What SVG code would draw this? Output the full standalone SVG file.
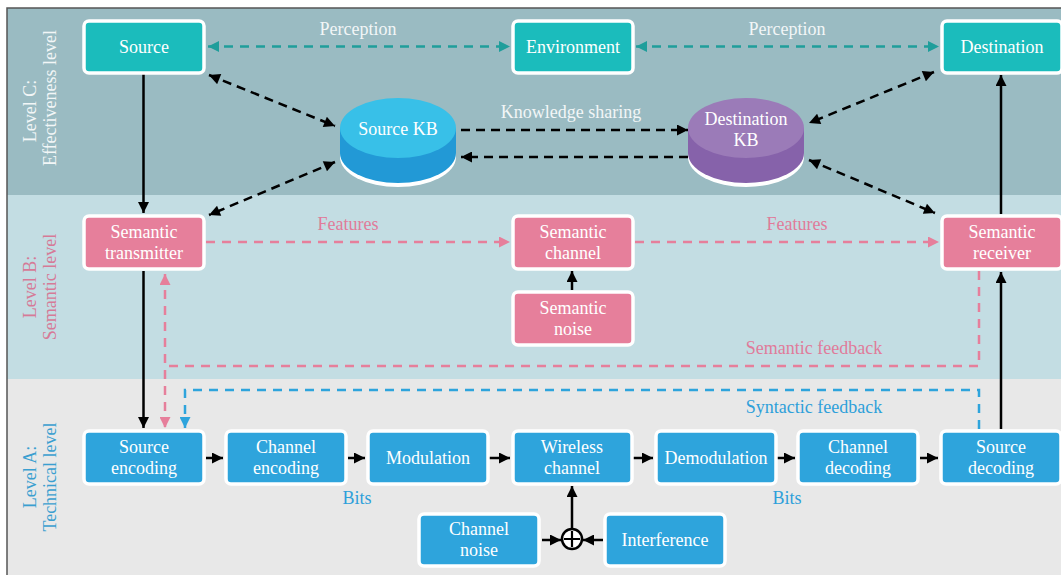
<svg xmlns="http://www.w3.org/2000/svg" width="1061" height="575" viewBox="0 0 1061 575">
<style>
text{font-family:"Liberation Serif","Times New Roman",serif;font-size:18px;text-anchor:middle}
.nt{fill:#fff}
.box{stroke:#fff;stroke-width:3.5}
.teal{fill:#1bbcbc}
.pink{fill:#e67f9b}
.blue{fill:#2ea4dc}
.lbl{fill:#f2f6f7}
.lp{fill:#e07b9a}
.lb{fill:#2ea0da}
.solid{stroke:#000;stroke-width:2.5;fill:none}
.dk{stroke:#000;stroke-width:2.5;fill:none;stroke-dasharray:9 6}
.dt{stroke:#1f9e9b;stroke-width:2.5;fill:none;stroke-dasharray:9 7}
.dp{stroke:#e67f9b;stroke-width:2.5;fill:none;stroke-dasharray:9 7}
.db{stroke:#2ea4dc;stroke-width:2.5;fill:none;stroke-dasharray:9 7}
</style>
<defs>
<marker id="ak" viewBox="0 0 10 10" refX="10" refY="5" markerWidth="13" markerHeight="11" markerUnits="userSpaceOnUse" orient="auto-start-reverse"><path d="M0,0 L10,5 L0,10 z" fill="#000"/></marker>
<marker id="at" viewBox="0 0 10 10" refX="10" refY="5" markerWidth="13" markerHeight="11" markerUnits="userSpaceOnUse" orient="auto-start-reverse"><path d="M0,0 L10,5 L0,10 z" fill="#1f9e9b"/></marker>
<marker id="ap" viewBox="0 0 10 10" refX="10" refY="5" markerWidth="13" markerHeight="11" markerUnits="userSpaceOnUse" orient="auto-start-reverse"><path d="M0,0 L10,5 L0,10 z" fill="#e67f9b"/></marker>
<marker id="ab" viewBox="0 0 10 10" refX="10" refY="5" markerWidth="13" markerHeight="11" markerUnits="userSpaceOnUse" orient="auto-start-reverse"><path d="M0,0 L10,5 L0,10 z" fill="#2ea4dc"/></marker>
</defs>
<rect width="1061" height="575" fill="#fff"/>
<g id="panels">
<rect x="7" y="8" width="1060" height="187" fill="#9abbc2"/>
<rect x="7" y="195" width="1060" height="184" fill="#c3dde3"/>
<rect x="7" y="379" width="1060" height="200" fill="#e8e8e8"/>
<path d="M7,580 V8 H1061" fill="none" stroke="#555" stroke-width="1.5"/>
</g>
<g id="level-labels">
<text transform="translate(36,111) rotate(-90)" class="lbl">Level C:</text>
<text transform="translate(56,98) rotate(-90)" class="lbl">Effectiveness level</text>
<text transform="translate(36,287) rotate(-90)" fill="#d67a97">Level B:</text>
<text transform="translate(56,287) rotate(-90)" fill="#d67a97">Semantic level</text>
<text transform="translate(36,477) rotate(-90)" fill="#3a9fd0">Level A:</text>
<text transform="translate(56,477) rotate(-90)" fill="#3a9fd0">Technical level</text>
</g>
<g id="connectors">
<line class="dt" x1="208" y1="46.5" x2="510" y2="46.5" marker-start="url(#at)" marker-end="url(#at)"/>
<line class="dt" x1="636" y1="46.5" x2="939" y2="46.5" marker-start="url(#at)" marker-end="url(#at)"/>
<line class="dk" x1="209" y1="75" x2="335" y2="126" marker-start="url(#ak)" marker-end="url(#ak)"/>
<line class="dk" x1="335" y1="162" x2="209" y2="215" marker-start="url(#ak)" marker-end="url(#ak)"/>
<line class="dk" x1="461" y1="130" x2="688" y2="130" marker-end="url(#ak)"/>
<line class="dk" x1="688" y1="157" x2="461" y2="157" marker-end="url(#ak)"/>
<line class="dk" x1="934" y1="72" x2="809" y2="123" marker-start="url(#ak)" marker-end="url(#ak)"/>
<line class="dk" x1="809" y1="160" x2="935" y2="213" marker-start="url(#ak)" marker-end="url(#ak)"/>
<line class="solid" x1="143.5" y1="74" x2="143.5" y2="213" marker-end="url(#ak)"/>
<line class="solid" x1="143.5" y1="271" x2="143.5" y2="428" marker-end="url(#ak)"/>
<line class="solid" x1="1001" y1="429" x2="1001" y2="272" marker-end="url(#ak)"/>
<line class="solid" x1="1001" y1="214" x2="1001" y2="75" marker-end="url(#ak)"/>
<line class="dp" x1="206" y1="242" x2="510" y2="242" marker-end="url(#ap)"/>
<line class="dp" x1="635" y1="242" x2="939" y2="242" marker-end="url(#ap)"/>
<line class="solid" x1="572" y1="290" x2="572" y2="271" marker-end="url(#ak)"/>
<path class="dp" d="M979,271 V366 H165"/>
<line class="dp" x1="165" y1="274" x2="165" y2="428" marker-start="url(#ap)" marker-end="url(#ap)"/>
<path class="db" d="M979,429 V390 H185 V428" marker-end="url(#ab)"/>
<line class="solid" x1="206" y1="458" x2="223" y2="458" marker-end="url(#ak)"/>
<line class="solid" x1="348" y1="458" x2="365" y2="458" marker-end="url(#ak)"/>
<line class="solid" x1="489" y1="458" x2="510" y2="458" marker-end="url(#ak)"/>
<line class="solid" x1="633" y1="458" x2="653" y2="458" marker-end="url(#ak)"/>
<line class="solid" x1="777" y1="458" x2="795" y2="458" marker-end="url(#ak)"/>
<line class="solid" x1="920" y1="458" x2="938" y2="458" marker-end="url(#ak)"/>
<line class="solid" x1="572" y1="528" x2="572" y2="486" marker-end="url(#ak)"/>
<line class="solid" x1="542" y1="540" x2="561" y2="540" marker-end="url(#ak)"/>
<line class="solid" x1="603" y1="540" x2="583" y2="540" marker-end="url(#ak)"/>
<text x="358" y="35" class="lbl">Perception</text>
<text x="787" y="35" class="lbl">Perception</text>
<text x="571" y="118" class="lbl">Knowledge sharing</text>
<text x="348" y="230" class="lp">Features</text>
<text x="797" y="230" class="lp">Features</text>
<text x="814" y="354" class="lp">Semantic feedback</text>
<text x="814" y="413" class="lb">Syntactic feedback</text>
<text x="357" y="504" class="lb">Bits</text>
<text x="787" y="504" class="lb">Bits</text>
</g>
<g id="plus">
<circle cx="572" cy="539" r="10" fill="#fff" stroke="#000" stroke-width="2.5"/>
<path d="M572,531 V547 M564,539 H580" stroke="#000" stroke-width="2.2"/>
</g>
<g id="source"><rect class="box teal" x="84" y="21" width="120" height="52" rx="5"/><text class="nt" x="144" y="53">Source</text></g>
<g id="environment"><rect class="box teal" x="513" y="21" width="120" height="52" rx="5"/><text class="nt" x="573" y="53">Environment</text></g>
<g id="destination"><rect class="box teal" x="942" y="21" width="120" height="52" rx="5"/><text class="nt" x="1002" y="53">Destination</text></g>
<g id="source-kb">
<ellipse cx="398" cy="157" rx="58" ry="30" fill="#fff"/>
<path d="M340,128 V153 A58,30 0 0 0 456,153 V128 z" fill="#2299d6"/>
<ellipse cx="398" cy="128" rx="58" ry="30" fill="#38c0e8"/>
<text class="nt" x="398" y="135">Source KB</text>
</g>
<g id="destination-kb">
<ellipse cx="746" cy="157" rx="58" ry="30" fill="#fff"/>
<path d="M688,128 V153 A58,30 0 0 0 804,153 V128 z" fill="#8662aa"/>
<ellipse cx="746" cy="128" rx="58" ry="30" fill="#9b7bb8"/>
<text class="nt" x="746" y="125">Destination</text>
<text class="nt" x="746" y="146">KB</text>
</g>
<g id="semantic-transmitter"><rect class="box pink" x="84" y="216" width="120" height="53" rx="5"/><text class="nt" x="144" y="238">Semantic</text><text class="nt" x="144" y="259">transmitter</text></g>
<g id="semantic-channel"><rect class="box pink" x="513" y="216" width="120" height="53" rx="5"/><text class="nt" x="573" y="238">Semantic</text><text class="nt" x="573" y="259">channel</text></g>
<g id="semantic-noise"><rect class="box pink" x="513" y="292" width="120" height="53" rx="5"/><text class="nt" x="573" y="314">Semantic</text><text class="nt" x="573" y="335">noise</text></g>
<g id="semantic-receiver"><rect class="box pink" x="942" y="216" width="120" height="53" rx="5"/><text class="nt" x="1002" y="238">Semantic</text><text class="nt" x="1002" y="259">receiver</text></g>
<g id="source-encoding"><rect class="box blue" x="84" y="431" width="120" height="53" rx="5"/><text class="nt" x="144" y="453">Source</text><text class="nt" x="144" y="474">encoding</text></g>
<g id="channel-encoding"><rect class="box blue" x="226" y="431" width="120" height="53" rx="5"/><text class="nt" x="286" y="453">Channel</text><text class="nt" x="286" y="474">encoding</text></g>
<g id="modulation"><rect class="box blue" x="368" y="431" width="120" height="53" rx="5"/><text class="nt" x="428" y="464">Modulation</text></g>
<g id="wireless-channel"><rect class="box blue" x="513" y="431" width="119" height="53" rx="5"/><text class="nt" x="572" y="453">Wireless</text><text class="nt" x="572" y="474">channel</text></g>
<g id="demodulation"><rect class="box blue" x="656" y="431" width="120" height="53" rx="5"/><text class="nt" x="716" y="464">Demodulation</text></g>
<g id="channel-decoding"><rect class="box blue" x="798" y="431" width="120" height="53" rx="5"/><text class="nt" x="858" y="453">Channel</text><text class="nt" x="858" y="474">decoding</text></g>
<g id="source-decoding"><rect class="box blue" x="941" y="431" width="120" height="53" rx="5"/><text class="nt" x="1001" y="453">Source</text><text class="nt" x="1001" y="474">decoding</text></g>
<g id="channel-noise"><rect class="box blue" x="419" y="514" width="120" height="52" rx="5"/><text class="nt" x="479" y="535">Channel</text><text class="nt" x="479" y="556">noise</text></g>
<g id="interference"><rect class="box blue" x="605" y="514" width="120" height="52" rx="5"/><text class="nt" x="665" y="546">Interference</text></g>
</svg>
